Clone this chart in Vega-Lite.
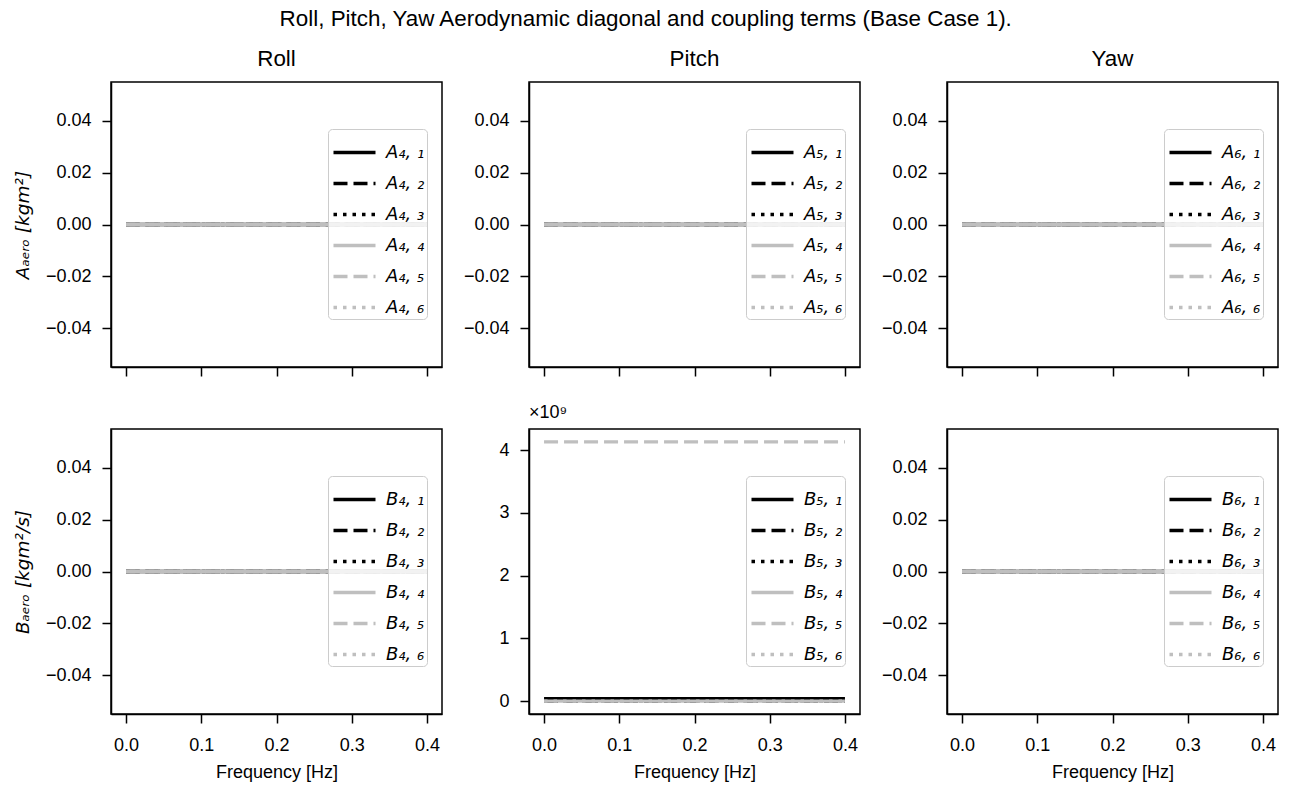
{
  "$schema": "https://vega.github.io/schema/vega-lite/v6.json",
  "padding": {"left": 12, "top": 8, "right": 5, "bottom": 5},
  "background": "white",
  "title": {
    "text": "Roll, Pitch, Yaw Aerodynamic diagonal and coupling terms (Base Case 1).",
    "font": "Liberation Sans",
    "fontSize": 22.4,
    "fontWeight": "normal",
    "color": "black",
    "anchor": "middle",
    "frame": "bounds",
    "offset": 16
  },
  "datasets": {
    "coef": [
      {"panel": "A4", "term": "A₄, ₁", "f": 0, "v": 0}, {"panel": "A4", "term": "A₄, ₁", "f": 0.4, "v": 0},
      {"panel": "A4", "term": "A₄, ₂", "f": 0, "v": 0}, {"panel": "A4", "term": "A₄, ₂", "f": 0.4, "v": 0},
      {"panel": "A4", "term": "A₄, ₃", "f": 0, "v": 0}, {"panel": "A4", "term": "A₄, ₃", "f": 0.4, "v": 0},
      {"panel": "A4", "term": "A₄, ₄", "f": 0, "v": 0}, {"panel": "A4", "term": "A₄, ₄", "f": 0.4, "v": 0},
      {"panel": "A4", "term": "A₄, ₅", "f": 0, "v": 0}, {"panel": "A4", "term": "A₄, ₅", "f": 0.4, "v": 0},
      {"panel": "A4", "term": "A₄, ₆", "f": 0, "v": 0}, {"panel": "A4", "term": "A₄, ₆", "f": 0.4, "v": 0},
      {"panel": "A5", "term": "A₅, ₁", "f": 0, "v": 0}, {"panel": "A5", "term": "A₅, ₁", "f": 0.4, "v": 0},
      {"panel": "A5", "term": "A₅, ₂", "f": 0, "v": 0}, {"panel": "A5", "term": "A₅, ₂", "f": 0.4, "v": 0},
      {"panel": "A5", "term": "A₅, ₃", "f": 0, "v": 0}, {"panel": "A5", "term": "A₅, ₃", "f": 0.4, "v": 0},
      {"panel": "A5", "term": "A₅, ₄", "f": 0, "v": 0}, {"panel": "A5", "term": "A₅, ₄", "f": 0.4, "v": 0},
      {"panel": "A5", "term": "A₅, ₅", "f": 0, "v": 0}, {"panel": "A5", "term": "A₅, ₅", "f": 0.4, "v": 0},
      {"panel": "A5", "term": "A₅, ₆", "f": 0, "v": 0}, {"panel": "A5", "term": "A₅, ₆", "f": 0.4, "v": 0},
      {"panel": "A6", "term": "A₆, ₁", "f": 0, "v": 0}, {"panel": "A6", "term": "A₆, ₁", "f": 0.4, "v": 0},
      {"panel": "A6", "term": "A₆, ₂", "f": 0, "v": 0}, {"panel": "A6", "term": "A₆, ₂", "f": 0.4, "v": 0},
      {"panel": "A6", "term": "A₆, ₃", "f": 0, "v": 0}, {"panel": "A6", "term": "A₆, ₃", "f": 0.4, "v": 0},
      {"panel": "A6", "term": "A₆, ₄", "f": 0, "v": 0}, {"panel": "A6", "term": "A₆, ₄", "f": 0.4, "v": 0},
      {"panel": "A6", "term": "A₆, ₅", "f": 0, "v": 0}, {"panel": "A6", "term": "A₆, ₅", "f": 0.4, "v": 0},
      {"panel": "A6", "term": "A₆, ₆", "f": 0, "v": 0}, {"panel": "A6", "term": "A₆, ₆", "f": 0.4, "v": 0},
      {"panel": "B4", "term": "B₄, ₁", "f": 0, "v": 0}, {"panel": "B4", "term": "B₄, ₁", "f": 0.4, "v": 0},
      {"panel": "B4", "term": "B₄, ₂", "f": 0, "v": 0}, {"panel": "B4", "term": "B₄, ₂", "f": 0.4, "v": 0},
      {"panel": "B4", "term": "B₄, ₃", "f": 0, "v": 0}, {"panel": "B4", "term": "B₄, ₃", "f": 0.4, "v": 0},
      {"panel": "B4", "term": "B₄, ₄", "f": 0, "v": 0}, {"panel": "B4", "term": "B₄, ₄", "f": 0.4, "v": 0},
      {"panel": "B4", "term": "B₄, ₅", "f": 0, "v": 0}, {"panel": "B4", "term": "B₄, ₅", "f": 0.4, "v": 0},
      {"panel": "B4", "term": "B₄, ₆", "f": 0, "v": 0}, {"panel": "B4", "term": "B₄, ₆", "f": 0.4, "v": 0},
      {"panel": "B5", "term": "B₅, ₁", "f": 0, "v": 40000000}, {"panel": "B5", "term": "B₅, ₁", "f": 0.4, "v": 40000000},
      {"panel": "B5", "term": "B₅, ₂", "f": 0, "v": 0}, {"panel": "B5", "term": "B₅, ₂", "f": 0.4, "v": 0},
      {"panel": "B5", "term": "B₅, ₃", "f": 0, "v": 0}, {"panel": "B5", "term": "B₅, ₃", "f": 0.4, "v": 0},
      {"panel": "B5", "term": "B₅, ₄", "f": 0, "v": 0}, {"panel": "B5", "term": "B₅, ₄", "f": 0.4, "v": 0},
      {"panel": "B5", "term": "B₅, ₅", "f": 0, "v": 4130000000}, {"panel": "B5", "term": "B₅, ₅", "f": 0.4, "v": 4130000000},
      {"panel": "B5", "term": "B₅, ₆", "f": 0, "v": 0}, {"panel": "B5", "term": "B₅, ₆", "f": 0.4, "v": 0},
      {"panel": "B6", "term": "B₆, ₁", "f": 0, "v": 0}, {"panel": "B6", "term": "B₆, ₁", "f": 0.4, "v": 0},
      {"panel": "B6", "term": "B₆, ₂", "f": 0, "v": 0}, {"panel": "B6", "term": "B₆, ₂", "f": 0.4, "v": 0},
      {"panel": "B6", "term": "B₆, ₃", "f": 0, "v": 0}, {"panel": "B6", "term": "B₆, ₃", "f": 0.4, "v": 0},
      {"panel": "B6", "term": "B₆, ₄", "f": 0, "v": 0}, {"panel": "B6", "term": "B₆, ₄", "f": 0.4, "v": 0},
      {"panel": "B6", "term": "B₆, ₅", "f": 0, "v": 0}, {"panel": "B6", "term": "B₆, ₅", "f": 0.4, "v": 0},
      {"panel": "B6", "term": "B₆, ₆", "f": 0, "v": 0}, {"panel": "B6", "term": "B₆, ₆", "f": 0.4, "v": 0}
    ]
  },
  "config": {
    "view": {"stroke": "black", "strokeWidth": 1.5},
    "axis": {
      "grid": false,
      "domainColor": "black",
      "domainWidth": 1.5,
      "tickColor": "black",
      "tickWidth": 1.5,
      "tickSize": 9,
      "labelFont": "Liberation Sans",
      "labelFontSize": 18,
      "labelColor": "black",
      "labelPadding": 11,
      "titleFont": "Liberation Sans",
      "titleFontSize": 18,
      "titleFontWeight": "normal",
      "titleColor": "black"
    },
    "axisX": {"labelPadding": 13, "titlePadding": 9},
    "legend": {
      "orient": "none",
      "legendX": 217,
      "legendY": 47,
      "title": null,
      "fillColor": "rgba(255,255,255,0.8)",
      "strokeColor": "#cccccc",
      "cornerRadius": 4,
      "padding": 2,
      "symbolType": "M-1.074,0H1.074",
      "symbolSize": 1530,
      "symbolOffset": 3,
      "symbolStrokeWidth": 3.3,
      "labelFont": "DejaVu Sans",
      "labelFontStyle": "italic",
      "labelFontSize": 18,
      "labelColor": "black",
      "labelOffset": 10,
      "rowPadding": 0
    },
    "title": {"font": "Liberation Sans", "fontSize": 22.4, "fontWeight": "normal", "color": "black", "offset": 12}
  },
  "columns": 3,
  "spacing": {"row": 62, "column": 87},
  "bounds": "flush",
  "resolve": {
    "scale": {"x": "independent", "y": "independent", "color": "independent", "strokeDash": "independent"},
    "legend": {"color": "independent", "strokeDash": "independent"}
  },
  "concat": [
    {
      "title": "Roll",
      "width": 331, "height": 285,
      "data": {"name": "coef"},
      "transform": [{"filter": "datum.panel == 'A4'"}],
      "mark": {"type": "line", "strokeWidth": 3.3, "clip": true},
      "encoding": {
        "x": {"field": "f", "type": "quantitative", "scale": {"domain": [-0.02, 0.42], "nice": false, "zero": false}, "axis": {"values": [0, 0.1, 0.2, 0.3, 0.4], "labels": false, "title": null}},
        "y": {"field": "v", "type": "quantitative", "scale": {"domain": [-0.055, 0.055], "nice": false, "zero": false}, "axis": {"values": [-0.04, -0.02, 0, 0.02, 0.04], "format": ".2f", "title": "Aₐₑᵣₒ [kgm²]", "titleFont": "DejaVu Sans", "titleFontStyle": "italic", "titleFontSize": 18.5, "titlePadding": 13}},
        "color": {"field": "term", "type": "nominal", "scale": {"range": ["#000000", "#000000", "#000000", "#bfbfbf", "#bfbfbf", "#bfbfbf"]}},
        "strokeDash": {"field": "term", "type": "nominal", "scale": {"range": [[1, 0], [14, 6], [3.5, 6], [1, 0], [14, 6], [3.5, 6]]}}
      }
    },
    {
      "title": "Pitch",
      "width": 331, "height": 285,
      "data": {"name": "coef"},
      "transform": [{"filter": "datum.panel == 'A5'"}],
      "mark": {"type": "line", "strokeWidth": 3.3, "clip": true},
      "encoding": {
        "x": {"field": "f", "type": "quantitative", "scale": {"domain": [-0.02, 0.42], "nice": false, "zero": false}, "axis": {"values": [0, 0.1, 0.2, 0.3, 0.4], "labels": false, "title": null}},
        "y": {"field": "v", "type": "quantitative", "scale": {"domain": [-0.055, 0.055], "nice": false, "zero": false}, "axis": {"values": [-0.04, -0.02, 0, 0.02, 0.04], "format": ".2f", "title": null}},
        "color": {"field": "term", "type": "nominal", "scale": {"range": ["#000000", "#000000", "#000000", "#bfbfbf", "#bfbfbf", "#bfbfbf"]}},
        "strokeDash": {"field": "term", "type": "nominal", "scale": {"range": [[1, 0], [14, 6], [3.5, 6], [1, 0], [14, 6], [3.5, 6]]}}
      }
    },
    {
      "title": "Yaw",
      "width": 331, "height": 285,
      "data": {"name": "coef"},
      "transform": [{"filter": "datum.panel == 'A6'"}],
      "mark": {"type": "line", "strokeWidth": 3.3, "clip": true},
      "encoding": {
        "x": {"field": "f", "type": "quantitative", "scale": {"domain": [-0.02, 0.42], "nice": false, "zero": false}, "axis": {"values": [0, 0.1, 0.2, 0.3, 0.4], "labels": false, "title": null}},
        "y": {"field": "v", "type": "quantitative", "scale": {"domain": [-0.055, 0.055], "nice": false, "zero": false}, "axis": {"values": [-0.04, -0.02, 0, 0.02, 0.04], "format": ".2f", "title": null}},
        "color": {"field": "term", "type": "nominal", "scale": {"range": ["#000000", "#000000", "#000000", "#bfbfbf", "#bfbfbf", "#bfbfbf"]}},
        "strokeDash": {"field": "term", "type": "nominal", "scale": {"range": [[1, 0], [14, 6], [3.5, 6], [1, 0], [14, 6], [3.5, 6]]}}
      }
    },
    {
      "width": 331, "height": 285,
      "data": {"name": "coef"},
      "transform": [{"filter": "datum.panel == 'B4'"}],
      "mark": {"type": "line", "strokeWidth": 3.3, "clip": true},
      "encoding": {
        "x": {"field": "f", "type": "quantitative", "scale": {"domain": [-0.02, 0.42], "nice": false, "zero": false}, "axis": {"values": [0, 0.1, 0.2, 0.3, 0.4], "format": ".1f", "title": "Frequency [Hz]"}},
        "y": {"field": "v", "type": "quantitative", "scale": {"domain": [-0.055, 0.055], "nice": false, "zero": false}, "axis": {"values": [-0.04, -0.02, 0, 0.02, 0.04], "format": ".2f", "title": "Bₐₑᵣₒ [kgm²/s]", "titleFont": "DejaVu Sans", "titleFontStyle": "italic", "titleFontSize": 18.5, "titlePadding": 13}},
        "color": {"field": "term", "type": "nominal", "scale": {"range": ["#000000", "#000000", "#000000", "#bfbfbf", "#bfbfbf", "#bfbfbf"]}},
        "strokeDash": {"field": "term", "type": "nominal", "scale": {"range": [[1, 0], [14, 6], [3.5, 6], [1, 0], [14, 6], [3.5, 6]]}}
      }
    },
    {
      "title": {"text": "×10⁹", "anchor": "start", "frame": "group", "fontSize": 18, "offset": 7},
      "width": 331, "height": 285,
      "data": {"name": "coef"},
      "transform": [{"filter": "datum.panel == 'B5'"}],
      "mark": {"type": "line", "strokeWidth": 3.3, "clip": true},
      "encoding": {
        "x": {"field": "f", "type": "quantitative", "scale": {"domain": [-0.02, 0.42], "nice": false, "zero": false}, "axis": {"values": [0, 0.1, 0.2, 0.3, 0.4], "format": ".1f", "title": "Frequency [Hz]"}},
        "y": {"field": "v", "type": "quantitative", "scale": {"domain": [-206500000, 4336500000], "nice": false, "zero": false}, "axis": {"values": [0, 1000000000, 2000000000, 3000000000, 4000000000], "labelExpr": "format(datum.value / 1e9, 'd')", "title": null}},
        "color": {"field": "term", "type": "nominal", "scale": {"range": ["#000000", "#000000", "#000000", "#bfbfbf", "#bfbfbf", "#bfbfbf"]}},
        "strokeDash": {"field": "term", "type": "nominal", "scale": {"range": [[1, 0], [14, 6], [3.5, 6], [1, 0], [14, 6], [3.5, 6]]}}
      }
    },
    {
      "width": 331, "height": 285,
      "data": {"name": "coef"},
      "transform": [{"filter": "datum.panel == 'B6'"}],
      "mark": {"type": "line", "strokeWidth": 3.3, "clip": true},
      "encoding": {
        "x": {"field": "f", "type": "quantitative", "scale": {"domain": [-0.02, 0.42], "nice": false, "zero": false}, "axis": {"values": [0, 0.1, 0.2, 0.3, 0.4], "format": ".1f", "title": "Frequency [Hz]"}},
        "y": {"field": "v", "type": "quantitative", "scale": {"domain": [-0.055, 0.055], "nice": false, "zero": false}, "axis": {"values": [-0.04, -0.02, 0, 0.02, 0.04], "format": ".2f", "title": null}},
        "color": {"field": "term", "type": "nominal", "scale": {"range": ["#000000", "#000000", "#000000", "#bfbfbf", "#bfbfbf", "#bfbfbf"]}},
        "strokeDash": {"field": "term", "type": "nominal", "scale": {"range": [[1, 0], [14, 6], [3.5, 6], [1, 0], [14, 6], [3.5, 6]]}}
      }
    }
  ]
}
